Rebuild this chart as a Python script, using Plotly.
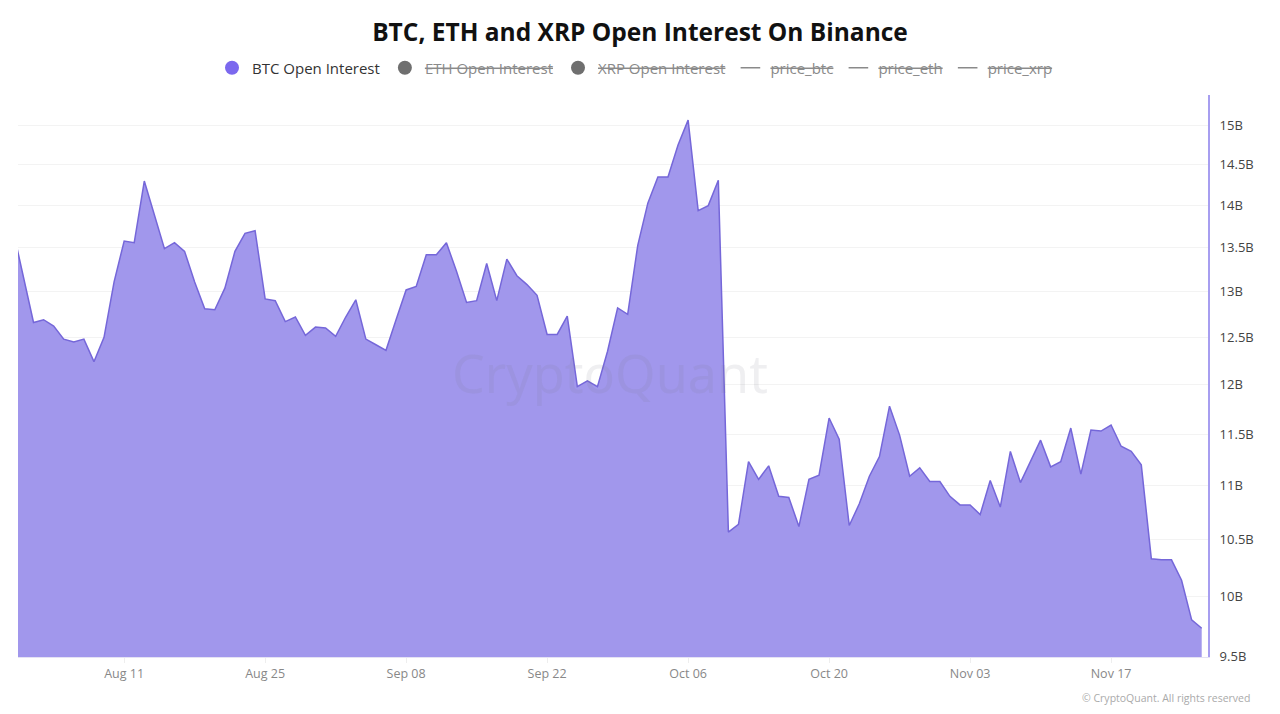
import math
import pandas as pd
import plotly.graph_objects as go

# ---- data (billions USD), daily from 2025-07-31 to 2025-11-26 ----
start_date = "2025-07-31"
btc_oi_jul = [13.69]
btc_oi_aug = [13.16, 12.66, 12.69, 12.62, 12.48, 12.45, 12.48, 12.24, 12.50, 13.11,
              13.58, 13.56, 14.30, 13.89, 13.49, 13.56, 13.46, 13.11, 12.81, 12.80,
              13.04, 13.46, 13.67, 13.70, 12.92, 12.90, 12.67, 12.72, 12.52, 12.61, 12.60]
btc_oi_sep = [12.51, 12.72, 12.91, 12.48, 12.42, 12.36, 12.69, 13.02, 13.06, 13.42,
              13.42, 13.56, 13.23, 12.88, 12.90, 13.32, 12.90, 13.37, 13.18, 13.08,
              12.96, 12.53, 12.53, 12.73, 11.98, 12.04, 11.98, 12.35, 12.82, 12.75]
btc_oi_oct = [13.53, 14.03, 14.35, 14.35, 14.75, 15.07, 13.94, 14.00, 14.31, 10.57,
              10.64, 11.23, 11.06, 11.19, 10.90, 10.89, 10.62, 11.06, 11.10, 11.66,
              11.45, 10.63, 10.83, 11.09, 11.28, 11.78, 11.49, 11.09, 11.17, 11.04, 11.04]
btc_oi_nov = [10.90, 10.82, 10.82, 10.73, 11.05, 10.80, 11.33, 11.03, 11.23, 11.44,
              11.18, 11.23, 11.56, 11.11, 11.54, 11.53, 11.59, 11.38, 11.33, 11.20,
              10.33, 10.32, 10.32, 10.14, 9.80, 9.73]

y_tick_values = [9.5, 10, 10.5, 11, 11.5, 12, 12.5, 13, 13.5, 14, 14.5, 15]
y_tick_labels = ["9.5B", "10B", "10.5B", "11B", "11.5B", "12B", "12.5B", "13B",
                 "13.5B", "14B", "14.5B", "15B"]
x_tick_dates = ["2025-08-11", "2025-08-25", "2025-09-08", "2025-09-22",
                "2025-10-06", "2025-10-20", "2025-11-03", "2025-11-17"]
x_tick_labels = ["Aug 11", "Aug 25", "Sep 08", "Sep 22", "Oct 06", "Oct 20", "Nov 03", "Nov 17"]

btc_oi = btc_oi_jul + btc_oi_aug + btc_oi_sep + btc_oi_oct + btc_oi_nov
dates = pd.date_range(start_date, periods=len(btc_oi), freq="D")
btc_values = [v * 1e9 for v in btc_oi]

FONT = "Open Sans"
fig = go.Figure()

fig.add_trace(go.Scatter(
    x=dates, y=btc_values, mode="lines", fill="tozeroy",
    line=dict(color="#7567d9", width=1.5),
    fillcolor="#a197ec", showlegend=False, name="BTC Open Interest",
))

# legend entries
legend_items = [
    ("BTC Open Interest", "circle", "#7b68ee", "#333333", False),
    ("ETH Open Interest", "circle", "#6f6f6f", "#8a8a8a", True),
    ("XRP Open Interest", "circle", "#6f6f6f", "#8a8a8a", True),
    ("price_btc", "line-ew", "#8a8a8a", "#8a8a8a", True),
    ("price_eth", "line-ew", "#8a8a8a", "#8a8a8a", True),
    ("price_xrp", "line-ew", "#8a8a8a", "#8a8a8a", True),
]
for name, sym, col, tcol, strike in legend_items:
    label = f"<s>{name}</s>" if strike else name
    label = f"<span style='color:{tcol}'>{label}</span>"
    if sym == "circle":
        marker = dict(symbol="circle", size=14, color=col)
    else:
        marker = dict(symbol="line-ew", size=14, color=col, line=dict(color=col, width=1.5))
    fig.add_trace(go.Scatter(x=[None], y=[None], mode="markers", marker=marker,
                             name=label, showlegend=True))

top_log = math.log10(15e9) + 30.5 / 2674
bot_log = math.log10(9.5e9) - 1.0 / 2674

fig.update_layout(
    width=1280, height=714,
    margin=dict(l=18, r=72, t=95, b=57),
    paper_bgcolor="white", plot_bgcolor="white",
    font=dict(family=FONT, color="#333333"),
    title=dict(text="<b>BTC, ETH and XRP Open Interest On Binance</b>",
               x=0.5, xanchor="center", y=1 - 32 / 714, yanchor="middle",
               yref="container", font=dict(size=24.5, color="#111111", family=FONT)),
    legend=dict(orientation="h", x=0.5 + 22 / 1190, xanchor="center", y=1 + 27 / 562,
                yanchor="middle", font=dict(size=15, family=FONT),
                itemwidth=30, bgcolor="rgba(0,0,0,0)"),
    xaxis=dict(
        type="date", range=["2025-07-31 11:00", "2025-11-26 15:00"],
        tickvals=x_tick_dates, ticktext=x_tick_labels,
        showgrid=False, ticks="outside", ticklen=5, tickcolor="#eeeeee",
        showline=True, linecolor="#e4e2f4", linewidth=1,
        tickfont=dict(size=12.5, color="#888888", family=FONT), zeroline=False,
    ),
    yaxis=dict(
        type="log", side="right", range=[bot_log, top_log],
        tickvals=[v * 1e9 for v in y_tick_values], ticktext=y_tick_labels,
        showgrid=True, gridcolor="#f3f3f3", gridwidth=1,
        showline=True, linecolor="#a79ef0", linewidth=2,
        ticks="", ticklabelstandoff=7,
        tickfont=dict(size=13, color="#444444", family=FONT), zeroline=False,
    ),
    annotations=[
        dict(text="CryptoQuant", xref="paper", yref="paper",
             x=(610 - 18) / 1190, y=(657 - 372) / 562, xanchor="center", yanchor="middle",
             showarrow=False, font=dict(size=52, color="rgba(120,120,140,0.12)", family="Noto Sans")),
        dict(text="© CryptoQuant. All rights reserved", xref="paper", yref="paper",
             x=(1252 - 18) / 1190, y=(657 - 698) / 562, xanchor="right", yanchor="middle",
             showarrow=False, font=dict(size=10.5, color="#aaaaaa", family=FONT)),
    ],
)

fig.write_html("out.html")
